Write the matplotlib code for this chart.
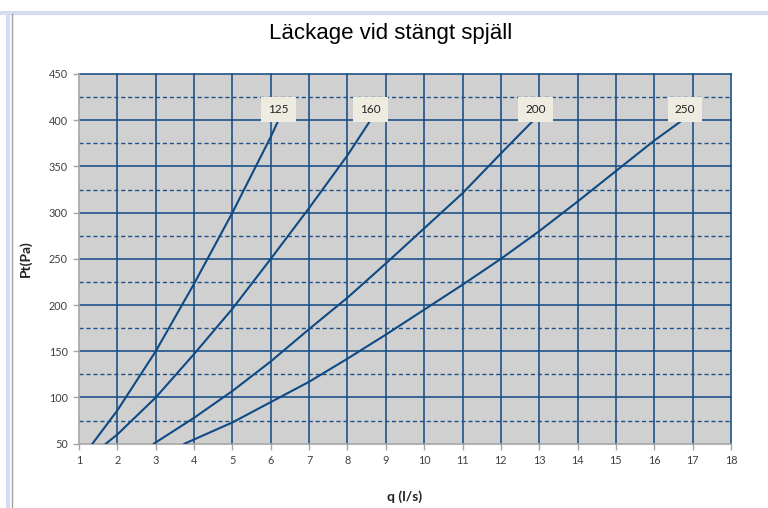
import matplotlib
matplotlib.use("Agg")
import matplotlib.pyplot as plt
from matplotlib.lines import Line2D

# leakage curves per damper size: flow q (l/s) vs total pressure Pt (Pa)
q_125 = [1.35, 2, 3, 4, 5, 6, 6.2]
p_125 = [50, 86, 150, 223, 300, 382, 400]

q_160 = [1.7, 2, 3, 4, 5, 6, 7, 8, 8.6]
p_160 = [50, 60, 100, 147, 196, 250, 305, 362, 400]

q_200 = [2.95, 4, 5, 6, 7, 8, 9, 10, 11, 12, 12.9]
p_200 = [50, 78, 107, 139, 174, 208, 245, 283, 321, 364, 402]

q_250 = [3.75, 5, 6, 7, 8, 9, 10, 11, 12, 13, 14, 15, 16, 16.8]
p_250 = [50, 73, 95, 117, 142, 168, 195, 222, 250, 280, 312, 345, 378, 402]

sizes = ["125", "160", "200", "250"]
curves = [(q_125, p_125), (q_160, p_160), (q_200, p_200), (q_250, p_250)]
label_y = 412

x_ticks = list(range(1, 19))
y_ticks = list(range(50, 451, 50))
y_minor = list(range(75, 450, 50))

navy = "#1F5288"
line_col = "#0E4A84"

fig = plt.figure(figsize=(7.68, 5.08), dpi=100)
fig.patch.set_facecolor("white")

# outer chart frame
fig.add_artist(Line2D([0, 1], [1 - 12.5 / 508] * 2, color="#D5DBF0", lw=3, transform=fig.transFigure))
fig.add_artist(Line2D([7.5 / 768] * 2, [0, 1 - 12.5 / 508], color="#D5DBF0", lw=3, transform=fig.transFigure))
fig.add_artist(Line2D([12 / 768] * 2, [0, 1 - 14 / 508], color="#A0A0A0", lw=1, transform=fig.transFigure))

ax = fig.add_axes([79 / 768, 1 - 443.7 / 508, 652 / 768, 369.7 / 508])
ax.set_facecolor("#D0D0D0")
ax.set_xlim(1, 18)
ax.set_ylim(50, 450)

for x in x_ticks[1:]:
    ax.axvline(x, color=navy, lw=1.2, zorder=1, clip_on=False)
for y in y_ticks[1:]:
    ax.axhline(y, color=navy, lw=1.2, zorder=1, clip_on=False)
for y in y_minor:
    ax.axhline(y, color=navy, lw=1.0, ls=(0, (3, 2)), zorder=1)

for name, (q, p) in zip(sizes, curves):
    ax.plot(q, p, color=line_col, lw=1.5, zorder=3)
    ax.text(q[-1], label_y, name, ha="center", va="center", fontsize=8.5,
            family="Lato", color="#222222", zorder=4,
            bbox=dict(boxstyle="square,pad=0.6", facecolor="#EEECE1", edgecolor="none"))

ax.set_xticks(x_ticks)
ax.set_yticks(y_ticks)
ax.tick_params(direction="out", length=4, width=1, color="#A6A6A6",
               labelsize=7.8, labelcolor="#404040", pad=4)
for lab in ax.get_xticklabels() + ax.get_yticklabels():
    lab.set_family("Lato")

for side in ["top", "right"]:
    ax.spines[side].set_visible(False)
for side in ["left", "bottom"]:
    ax.spines[side].set_color("#A6A6A6")
    ax.spines[side].set_linewidth(1.2)

ax.set_xlabel("q (l/s)", fontsize=10, fontweight="bold", family="Lato", color="#222222")
ax.set_ylabel("Pt(Pa)", fontsize=10, fontweight="bold", family="Lato", color="#222222")
ax.xaxis.set_label_coords(0.5, -0.125)
ax.yaxis.set_label_coords(-0.072, 0.5)

fig.text(0.508, 1 - 33 / 508, "Läckage vid stängt spjäll", ha="center", va="center",
         fontsize=16, family="Liberation Sans", color="black")

fig.savefig("out.png", dpi=100)
